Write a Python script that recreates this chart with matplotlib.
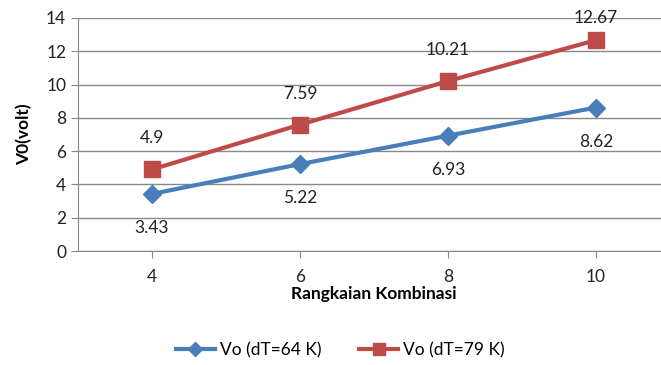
import matplotlib
matplotlib.use('Agg')
import matplotlib.pyplot as plt

# --- data ---
categories = ['4', '6', '8', '10']
vo_64 = [3.43, 5.22, 6.93, 8.62]
vo_79 = [4.9, 7.59, 10.21, 12.67]
label_64 = 'Vo (dT=64 K)'
label_79 = 'Vo (dT=79 K)'

plt.rcParams['font.family'] = ['Lato', 'DejaVu Sans']

blue = '#4A7EBB'
red = '#BE4B48'

fig = plt.figure(figsize=(6.61, 3.65), dpi=100)
ax = fig.add_axes([78 / 661, 1 - 251 / 365, 592 / 661, 233 / 365])

x = list(range(len(categories)))
ax.plot(x, vo_64, color=blue, lw=3, marker='D', ms=9, label=label_64)
ax.plot(x, vo_79, color=red, lw=3, marker='s', ms=11, label=label_79)

# data labels: blue under the points, red over them
for xi, v in zip(x, vo_64):
    ax.annotate(f'{v:g}', (xi, v), xytext=(0, -34), textcoords='offset pixels',
                ha='center', va='center', fontsize=12.5, color='#222222')
for i, (xi, v) in enumerate(zip(x, vo_79)):
    dy = 22 if i == len(x) - 1 else 31
    ax.annotate(f'{v:g}', (xi, v), xytext=(0, dy), textcoords='offset pixels',
                ha='center', va='center', fontsize=12.5, color='#222222')

ax.set_xlim(-0.5, 3.5)
ax.set_ylim(0, 14)
ax.set_yticks(range(0, 15, 2))
ax.set_xticks(x)
ax.set_xticklabels(categories)
ax.tick_params(axis='both', labelsize=12.5, colors='#222222', length=5, color='#888888')
ax.tick_params(axis='x', pad=8)
ax.grid(axis='y', color='#888888', lw=1)
ax.set_axisbelow(True)
for side in ['top', 'right']:
    ax.spines[side].set_visible(False)
ax.spines['left'].set_color('#888888')
ax.spines['bottom'].set_color('#888888')

ax.set_xlabel('Rangkaian Kombinasi', fontsize=12.5, fontweight='bold', labelpad=1)
ax.set_ylabel('V0(volt)', fontsize=12.5, fontweight='bold', labelpad=10)

fig.legend(loc='center', bbox_to_anchor=(0.515, 1 - 350 / 365), ncol=2, frameon=False,
           fontsize=12.5, handlelength=2.2, handletextpad=0.3, markerscale=0.8,
           columnspacing=2.2)

fig.savefig('out.png', dpi=100)
